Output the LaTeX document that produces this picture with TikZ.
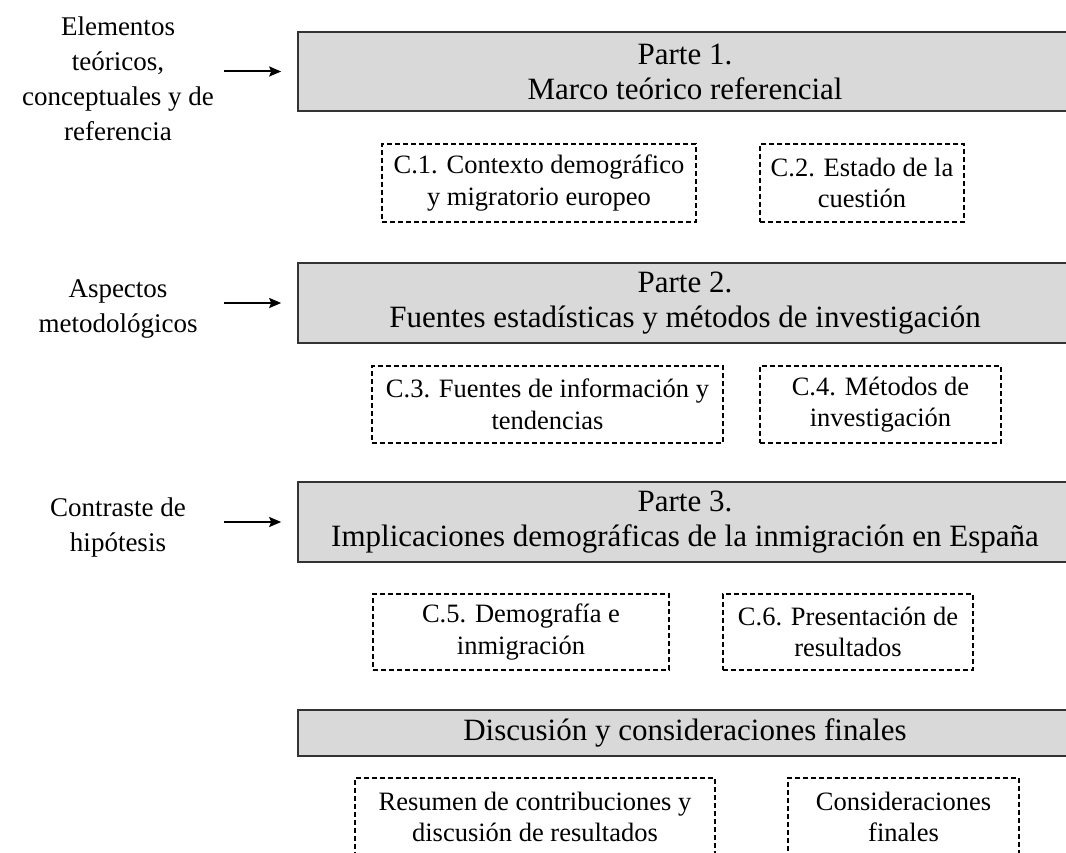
\documentclass[tikz,border=0pt]{standalone}
\usepackage{fontspec}
\setmainfont{Liberation Serif}
\usetikzlibrary{arrows.meta}
\definecolor{boxgray}{HTML}{D9D9D9}
\definecolor{edgegray}{HTML}{333333}
\tikzset{
  partbox/.style={draw=edgegray, line width=1.6pt, fill=boxgray, inner sep=0pt, align=center, font=\fontsize{31}{35}\selectfont},
  chapbox/.style={draw=black, line width=1.6pt, dash pattern=on 5pt off 3pt, inner sep=0pt, align=center, font=\fontsize{26.5}{31.5}\selectfont},
  sidetext/.style={align=center, inner sep=0pt, font=\fontsize{27}{35}\selectfont},
  arr/.style={line width=2pt, -{Stealth[length=12pt,width=10pt,inset=2pt]}, shorten >=16pt}
}
\begin{document}
\begin{tikzpicture}[x=1pt,y=-1pt]
\useasboundingbox (0,0) rectangle (1066,853);
\clip (0,0) rectangle (1066,853);
\fill[white] (0,0) rectangle (1066,853);

% part boxes
\node[partbox, minimum width=774pt, minimum height=79pt] (p1) at (685,71.5) {Parte 1.\\Marco teórico referencial};
\node[partbox, minimum width=774pt, minimum height=80pt] (p2) at (685,303) {Parte 2.\\Fuentes estadísticas y métodos de investigación};
\node[partbox, minimum width=774pt, minimum height=80pt] (p3) at (685,522) {Parte 3.\\Implicaciones demográficas de la inmigración en España};
\node[partbox, minimum width=774pt, minimum height=46pt] (p4) at (685,733) {Discusión y consideraciones finales};

% chapter boxes
\node[chapbox, minimum width=314pt, minimum height=78pt] (c1) at (539,183) {C.1. Contexto demográfico\\y migratorio europeo};
\node[chapbox, minimum width=204pt, minimum height=78pt] (c2) at (862,183) {C.2. Estado de la\\cuestión};
\node[chapbox, minimum width=351pt, minimum height=77pt] (c3) at (547.5,404.5) {C.3. Fuentes de información y\\tendencias};
\node[chapbox, minimum width=241pt, minimum height=77pt] (c4) at (880.5,404.5) {C.4. Métodos de\\investigación};
\node[chapbox, minimum width=296pt, minimum height=76pt] (c5) at (521,632) {C.5. Demografía e\\inmigración};
\node[chapbox, minimum width=250pt, minimum height=76pt] (c6) at (848,632) {C.6. Presentación de\\resultados};
\node[chapbox, minimum width=360pt, minimum height=78pt] (c7) at (535,817) {Resumen de contribuciones y\\discusión de resultados};
\node[chapbox, minimum width=231pt, minimum height=78pt] (c8) at (903.5,817) {Consideraciones\\finales};

% side texts
\node[sidetext] (s1) at (118,79) {Elementos\\teóricos,\\conceptuales y de\\referencia};
\node[sidetext] (s2) at (118,309) {Aspectos\\metodológicos};
\node[sidetext] (s3) at (118,528) {Contraste de\\hipótesis};

% arrows
\coordinate (a1) at (224,71.5);
\coordinate (a2) at (224,303);
\coordinate (a3) at (224,522);
\draw[arr] (a1) -- (p1.west);
\draw[arr] (a2) -- (p2.west);
\draw[arr] (a3) -- (p3.west);
\end{tikzpicture}
\end{document}
